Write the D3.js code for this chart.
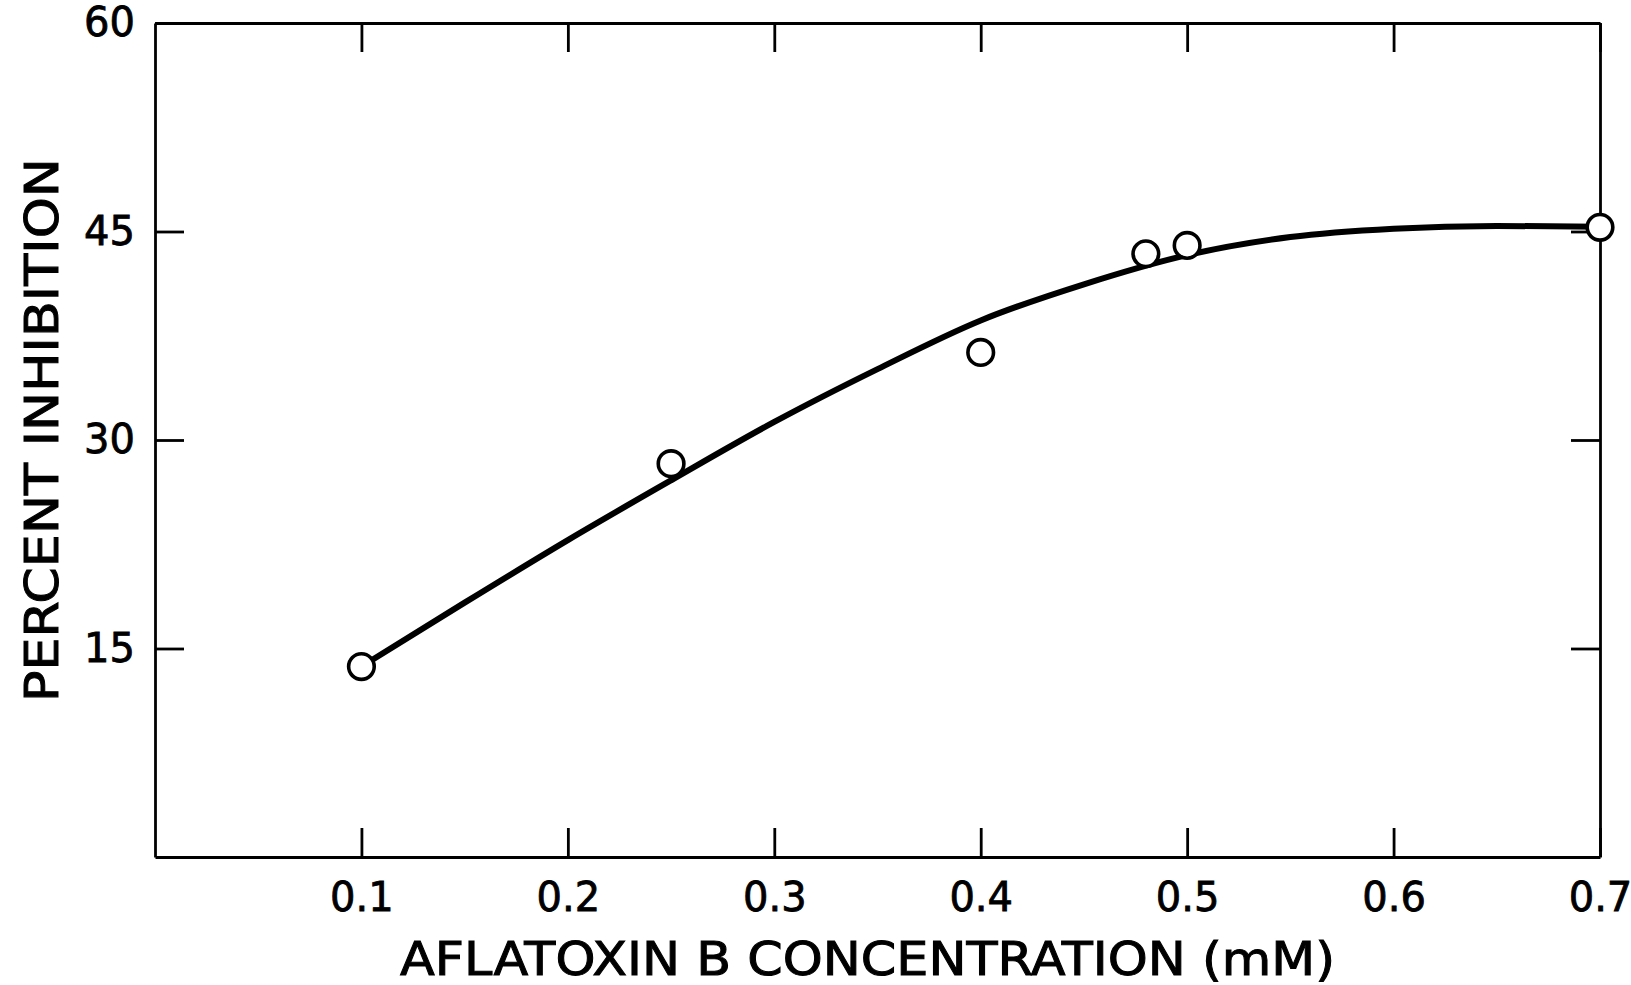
<!DOCTYPE html>
<html>
<head>
<meta charset="utf-8">
<script src="https://cdn.jsdelivr.net/npm/d3@7"></script>
<style>
body { margin: 0; background: white; }
text { font-family: "DejaVu Sans", sans-serif; fill: #000; stroke: #000; stroke-width: 0.8px; }
.tick text { font-size: 40px; }
.axisLabel { font-size: 47px; stroke-width: 1px; }
</style>
</head>
<body>
<div id="drawing"></div>
<script>
"use strict"

/**** data ****/
let concentration = [0.1, 0.25, 0.4, 0.48, 0.5, 0.7]
let inhibition = [13.7, 28.3, 36.3, 43.4, 44.0, 45.3]

// hand drawn fitted curve
let curveX = [0.1, 0.15, 0.2, 0.25, 0.3, 0.35, 0.4, 0.45, 0.5, 0.55, 0.6, 0.65, 0.7]
let curveY = [13.7, 18.3, 22.8, 27.1, 31.3, 35.1, 38.6, 41.2, 43.3, 44.6, 45.2, 45.4, 45.35]

let xTicks = [0.1, 0.2, 0.3, 0.4, 0.5, 0.6, 0.7]
let yTicks = [15, 30, 45, 60]

/**** sizes ****/
let svgWidth = 1631
let svgHeight = 985

let leftEdge = 155
let rightEdge = 1600
let topEdge = 23
let bottomEdge = 857
let tickLen = 29

let svg = d3.select("#drawing")
.append("svg")
.attr("width", svgWidth)
.attr("height", svgHeight)

let xScale = d3.scaleLinear()
.domain([0, 0.7])
.range([leftEdge, rightEdge])

let yScale = d3.scaleLinear()
.domain([0, 60])
.range([bottomEdge, topEdge])

/**** axes (ticks point inward) ****/
let fmt = d3.format(".1f")

svg.append("g")
.attr("transform", `translate(0,${bottomEdge})`)
.call(d3.axisBottom(xScale).tickValues(xTicks).tickFormat(fmt)
  .tickSizeInner(-tickLen).tickSizeOuter(0).tickPadding(26))

svg.append("g")
.attr("transform", `translate(0,${topEdge})`)
.call(d3.axisTop(xScale).tickValues(xTicks).tickFormat("")
  .tickSizeInner(-tickLen).tickSizeOuter(0))

svg.append("g")
.attr("transform", `translate(${leftEdge},0)`)
.call(d3.axisLeft(yScale).tickValues(yTicks)
  .tickSizeInner(-tickLen).tickSizeOuter(0).tickPadding(20))

svg.append("g")
.attr("transform", `translate(${rightEdge},0)`)
.call(d3.axisRight(yScale).tickValues(yTicks).tickFormat("")
  .tickSizeInner(-tickLen).tickSizeOuter(0))

svg.selectAll(".domain, .tick line")
.attr("stroke", "#000")
.attr("stroke-width", 2.8)

svg.selectAll(".tick text")
.attr("font-family", null)
.attr("font-size", null)

/**** fitted curve ****/
let curvePts = curveX.map((x, i) => [x, curveY[i]])

svg.append("path")
.datum(curvePts)
.attr("fill", "none")
.attr("stroke", "#000")
.attr("stroke-width", 6)
.attr("d", d3.line()
  .x(d => xScale(d[0]))
  .y(d => yScale(d[1]))
  .curve(d3.curveMonotoneX))

/**** data points ****/
svg.selectAll("circle.pt")
.data(concentration)
.join("circle")
.attr("class", "pt")
.attr("cx", d => xScale(d))
.attr("cy", (d, i) => yScale(inhibition[i]))
.attr("r", 12.8)
.attr("fill", "white")
.attr("stroke", "#000")
.attr("stroke-width", 3.6)

/**** axis titles ****/
svg.append("text")
.attr("class", "axisLabel")
.attr("x", 400)
.attr("y", 975)
.attr("textLength", 935)
.attr("lengthAdjust", "spacingAndGlyphs")
.text("AFLATOXIN B CONCENTRATION (mM)")

svg.append("text")
.attr("class", "axisLabel")
.attr("transform", "rotate(-90)")
.attr("x", -702)
.attr("y", 58)
.attr("textLength", 544)
.attr("lengthAdjust", "spacingAndGlyphs")
.text("PERCENT INHIBITION")
</script>
</body>
</html>
